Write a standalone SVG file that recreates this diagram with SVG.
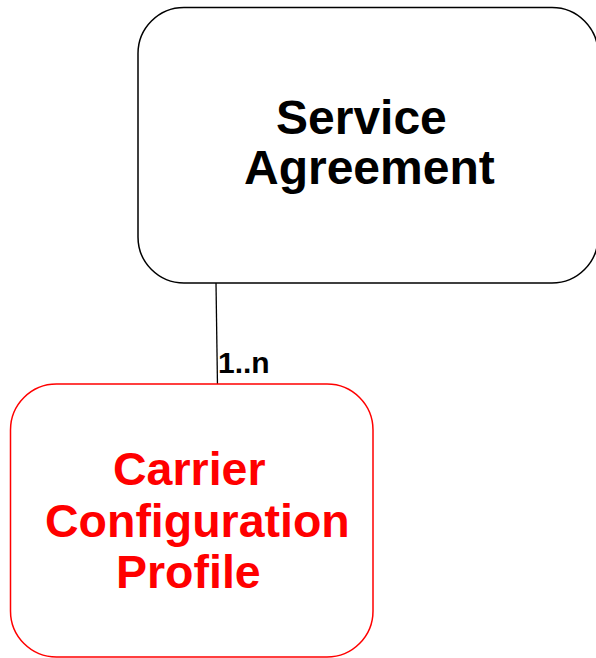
<svg xmlns="http://www.w3.org/2000/svg" width="596" height="658" viewBox="0 0 596 658">
  <style>
    .box { fill: #ffffff; stroke-width: 1.5; }
    .label { font-family: "Liberation Sans", Arial, sans-serif; font-weight: bold; }
  </style>
  <rect width="596" height="658" fill="#ffffff"/>
  <g id="connectors">
    <line x1="216" y1="283" x2="217.5" y2="387" stroke="#000000" stroke-width="1.3"/>
    <text class="label" x="218" y="373" font-size="30" fill="#000000">1..n</text>
  </g>
  <g id="service-agreement">
    <rect class="box" x="138" y="7.5" width="460" height="275.5" rx="46" ry="46" stroke="#000000"/>
    <text class="label" font-size="48" fill="#000000">
      <tspan x="276" y="134">Service</tspan>
      <tspan x="244" y="184">Agreement</tspan>
    </text>
  </g>
  <g id="carrier-configuration-profile">
    <rect class="box" x="10.5" y="384" width="362.5" height="273" rx="46" ry="46" stroke="#ff0000"/>
    <text class="label" font-size="46.5" fill="#ff0000">
      <tspan x="113" y="485">Carrier</tspan>
      <tspan x="45" y="537">Configuration</tspan>
      <tspan x="116" y="588">Profile</tspan>
    </text>
  </g>
</svg>
